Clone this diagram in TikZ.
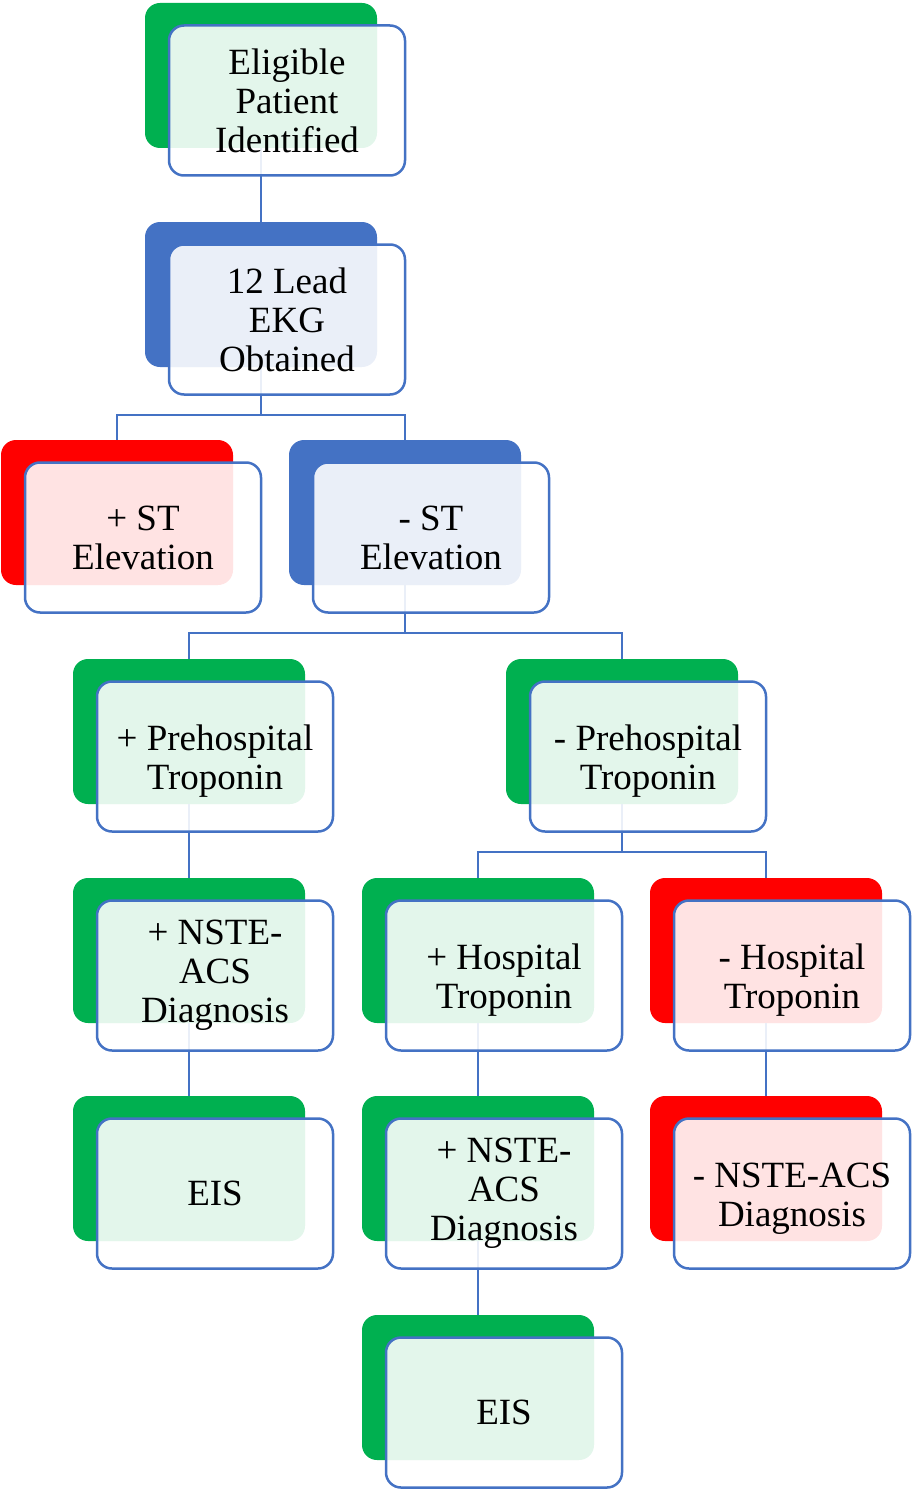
\documentclass[tikz,border=0pt]{standalone}
\usepackage{fontspec}
\setmainfont{Liberation Serif}
\definecolor{flowGreen}{RGB}{0, 176, 80}
\definecolor{flowRed}{RGB}{255, 0, 0}
\definecolor{flowBlue}{RGB}{68, 114, 196}
\usetikzlibrary{positioning, calc}

\begin{document}
\begin{tikzpicture}[x=1pt, y=-1pt,
    back/.style={rounded corners=15pt, minimum width=232pt, minimum height=145pt,
                 inner sep=0pt, fill=#1},
    front/.style={draw=flowBlue, line width=2.5pt, rounded corners=15pt,
                  minimum width=236pt, minimum height=150pt, inner sep=0pt,
                  fill=white, fill opacity=0.89, text opacity=1, align=center,
                  font=\rmfamily\fontsize{37}{39}\selectfont},
    conn/.style={draw=flowBlue, line width=2.5pt}
  ]
    \useasboundingbox (0,0) rectangle (911,1490);

    % Back boxes
    \node[back=flowGreen] (elig) at (261, 75.5) {};
    \node[back=flowBlue] (ekg) at (261, 294.5) {};
    \node[back=flowRed] (stPos) at (117, 512.5) {};
    \node[back=flowBlue] (stNeg) at (405, 512.5) {};
    \node[back=flowGreen] (preTropPos) at (189, 731.5) {};
    \node[back=flowGreen] (preTropNeg) at (622, 731.5) {};
    \node[back=flowGreen] (nsteL) at (189, 950.5) {};
    \node[back=flowGreen] (hospPos) at (478, 950.5) {};
    \node[back=flowRed] (hospNeg) at (766, 950.5) {};
    \node[back=flowGreen] (eisL) at (189, 1168.5) {};
    \node[back=flowGreen] (nsteM) at (478, 1168.5) {};
    \node[back=flowRed] (nsteNeg) at (766, 1168.5) {};
    \node[back=flowGreen] (eisM) at (478, 1387.5) {};

    % Connectors
    \draw[conn] (elig.south) -- (ekg.north);
    \draw[conn] (ekg.south) -- ++(0,48) -| (stPos.north);
    \draw[conn] (ekg.south) -- ++(0,48) -| (stNeg.north);
    \draw[conn] (stNeg.south) -- ++(0,48) -| (preTropPos.north);
    \draw[conn] (stNeg.south) -- ++(0,48) -| (preTropNeg.north);
    \draw[conn] (preTropPos.south) -- (nsteL.north);
    \draw[conn] (preTropNeg.south) -- ++(0,48) -| (hospPos.north);
    \draw[conn] (preTropNeg.south) -- ++(0,48) -| (hospNeg.north);
    \draw[conn] (nsteL.south) -- (eisL.north);
    \draw[conn] (hospPos.south) -- (nsteM.north);
    \draw[conn] (hospNeg.south) -- (nsteNeg.north);
    \draw[conn] (nsteM.south) -- (eisM.north);

    % Front boxes (some two-line labels get a strut so they sit a little lower)
    \node[front] (eligF) at ($(elig)+(26,25)$) {Eligible\\Patient\\Identified};
    \node[front] (ekgF) at ($(ekg)+(26,25)$) {12 Lead\\EKG\\Obtained};
    \node[front] (stPosF) at ($(stPos)+(26,25)$) {+ ST\\Elevation};
    \node[front] (stNegF) at ($(stNeg)+(26,25)$) {- ST\\Elevation};
    \node[front] (preTropPosF) at ($(preTropPos)+(26,25)$) {\rule{0pt}{34pt}+ Prehospital\\Troponin};
    \node[front] (preTropNegF) at ($(preTropNeg)+(26,25)$) {\rule{0pt}{34pt}- Prehospital\\Troponin};
    \node[front] (nsteLF) at ($(nsteL)+(26,25)$) {+ NSTE-\\ACS\\Diagnosis};
    \node[front] (hospPosF) at ($(hospPos)+(26,25)$) {\rule{0pt}{34pt}+ Hospital\\Troponin};
    \node[front] (hospNegF) at ($(hospNeg)+(26,25)$) {\rule{0pt}{34pt}- Hospital\\Troponin};
    \node[front] (eisLF) at ($(eisL)+(26,25)$) {EIS};
    \node[front] (nsteMF) at ($(nsteM)+(26,25)$) {+ NSTE-\\ACS\\Diagnosis};
    \node[front] (nsteNegF) at ($(nsteNeg)+(26,25)$) {\rule{0pt}{34pt}- NSTE-ACS\\Diagnosis};
    \node[front] (eisMF) at ($(eisM)+(26,25)$) {EIS};
  \end{tikzpicture}
\end{document}
